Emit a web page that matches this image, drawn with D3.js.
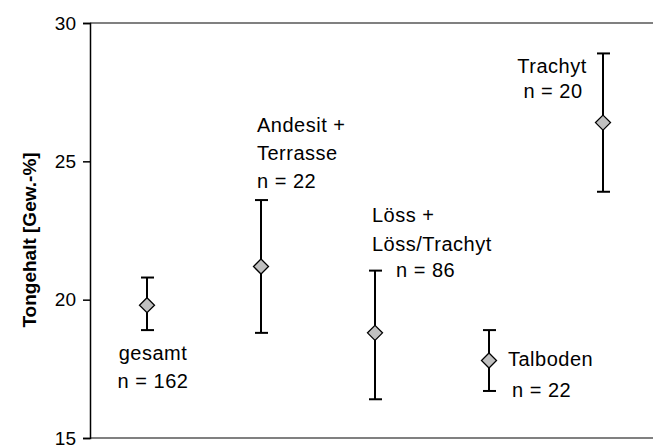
<!DOCTYPE html>
<html>
<head>
<meta charset="utf-8">
<script src="https://cdn.jsdelivr.net/npm/d3@7"></script>
<style>
  body { margin: 0; background: #fff; }
  text { font-family: "Liberation Sans", Arial, sans-serif; }
</style>
</head>
<body>
<script>
// data
var categories = ["gesamt", "Andesit", "Loess", "Talboden", "Trachyt"];
var means = [19.8, 21.2, 18.8, 17.8, 26.4];
var upper = [20.8, 23.6, 21.05, 18.9, 28.9];
var lower = [18.9, 18.8, 16.4, 16.7, 23.9];
var nValues = [162, 22, 86, 22, 20];
var labelLines = [["gesamt"], ["Andesit +", "Terrasse"], ["Löss +", "Löss/Trachyt"], ["Talboden"], ["Trachyt"]];
var yTicks = [15, 20, 25, 30];

var width = 653, height = 446;
var margin = {top: 23, right: -7, bottom: 8, left: 90};

var svg = d3.select("body").append("svg")
    .attr("width", width)
    .attr("height", height);

// scales
var x = d3.scalePoint()
    .domain(categories)
    .range([margin.left, width - margin.right])
    .padding(0.5);
var y = d3.scaleLinear()
    .domain([15, 30])
    .range([height - margin.bottom, margin.top]);

// top and bottom frame lines
svg.selectAll(".hline")
    .data([15, 30])
  .enter().append("line")
    .attr("x1", margin.left)
    .attr("x2", width)
    .attr("y1", function(d) { return y(d); })
    .attr("y2", function(d) { return y(d); })
    .attr("stroke", "#808080")
    .attr("stroke-width", 2);

// y axis
var yAxis = svg.append("g")
    .attr("transform", "translate(" + margin.left + ",0)")
    .call(d3.axisLeft(y).tickValues(yTicks).tickSize(7).tickPadding(7));
yAxis.select(".domain").attr("stroke", "#000").attr("stroke-width", 1.5);
yAxis.selectAll(".tick line").attr("stroke", "#000").attr("stroke-width", 1.5);
yAxis.selectAll(".tick text")
    .attr("font-size", "19px")
    .attr("font-family", "Liberation Sans, Arial, sans-serif")
    .attr("fill", "#000");

// y axis title
svg.append("text")
    .attr("transform", "rotate(-90)")
    .attr("x", -240)
    .attr("y", 36)
    .attr("text-anchor", "middle")
    .attr("font-size", "19px")
    .attr("font-weight", "bold")
    .text("Tongehalt [Gew.-%]");

var pts = categories.map(function(c, i) {
    return {cat: c, mean: means[i], hi: upper[i], lo: lower[i], n: nValues[i], lines: labelLines[i]};
});

// error bars
var bars = svg.selectAll(".bar")
    .data(pts)
  .enter().append("g")
    .attr("class", "bar");
bars.append("line")
    .attr("x1", function(d) { return x(d.cat); })
    .attr("x2", function(d) { return x(d.cat); })
    .attr("y1", function(d) { return y(d.hi); })
    .attr("y2", function(d) { return y(d.lo); })
    .attr("stroke", "#000")
    .attr("stroke-width", 2);
["hi", "lo"].forEach(function(k) {
    bars.append("line")
        .attr("x1", function(d) { return x(d.cat) - 6; })
        .attr("x2", function(d) { return x(d.cat) + 7; })
        .attr("y1", function(d) { return y(d[k]); })
        .attr("y2", function(d) { return y(d[k]); })
        .attr("stroke", "#000")
        .attr("stroke-width", 2);
});

// diamonds
bars.append("path")
    .attr("d", function(d) {
        var cx = x(d.cat), cy = y(d.mean), r = 7.5;
        return "M" + cx + "," + (cy - r) + "L" + (cx + r) + "," + cy + "L" + cx + "," + (cy + r) + "L" + (cx - r) + "," + cy + "Z";
    })
    .attr("fill", "#c0c0c0")
    .attr("stroke", "#000")
    .attr("stroke-width", 1.3);

// category labels (offsets relative to each point)
var labelPos = [
    {dx: 6, dy: [55], ndx: 6, ndy: 83, anchor: "middle"},
    {dx: -4, dy: [-134, -106], ndx: -4, ndy: -78, anchor: "start"},
    {dx: -3, dy: [-111, -82], ndx: 21, ndy: -56, anchor: "start"},
    {dx: 19, dy: [5], ndx: 23, ndy: 36, anchor: "start"},
    {dx: -51, dy: [-50], ndx: -50, ndy: -25, anchor: "middle"}
];
pts.forEach(function(d, i) {
    var p = labelPos[i], cx = x(d.cat), cy = y(d.mean);
    d.lines.forEach(function(t, j) {
        svg.append("text")
            .attr("x", cx + p.dx)
            .attr("y", cy + p.dy[j])
            .attr("text-anchor", p.anchor)
            .attr("font-size", "20px")
            .attr("letter-spacing", "0.5px")
            .text(t);
    });
    svg.append("text")
        .attr("x", cx + p.ndx)
        .attr("y", cy + p.ndy)
        .attr("text-anchor", p.anchor)
        .attr("font-size", "20px")
        .attr("letter-spacing", "0.5px")
        .text("n = " + d.n);
});
</script>
</body>
</html>
